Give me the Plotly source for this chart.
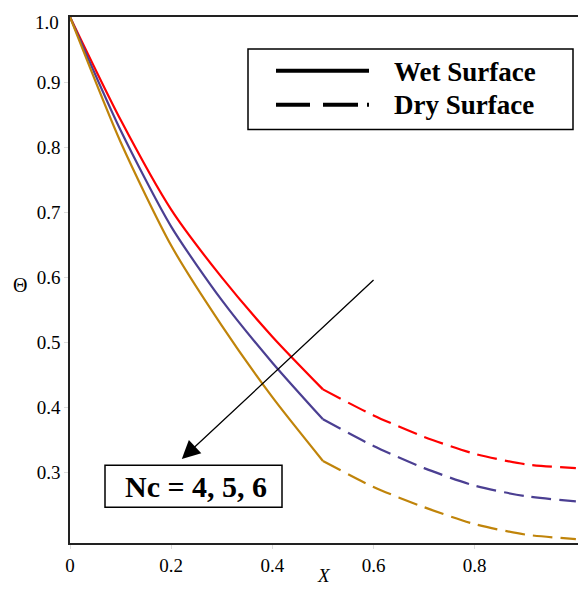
import plotly.graph_objects as go

# ---- data ----
x_wet = [0.0, 0.1, 0.2, 0.3, 0.4, 0.5]
x_dry = [0.5, 0.6, 0.7, 0.8, 0.9, 1.0]

nc4_wet = [1.0, 0.842, 0.704, 0.600, 0.509, 0.428]
nc5_wet = [1.0, 0.826, 0.678, 0.565, 0.469, 0.382]
nc6_wet = [1.0, 0.808, 0.649, 0.526, 0.416, 0.318]

nc4_dry = [0.428, 0.388, 0.355, 0.329, 0.313, 0.307]
nc5_dry = [0.382, 0.341, 0.307, 0.280, 0.264, 0.256]
nc6_dry = [0.318, 0.278, 0.247, 0.221, 0.205, 0.198]

colors = ["#FF0000", "#4B3F92", "#C0840A"]
x_ticks = [0, 0.2, 0.4, 0.6, 0.8]
x_ticktext = ["0", "0.2", "0.4", "0.6", "0.8"]
y_ticks = [0.3, 0.4, 0.5, 0.6, 0.7, 0.8, 0.9]
y_top_label = "1.0"

FONT = "Liberation Serif, Times New Roman, serif"

fig = go.Figure()
for wet, dry, c in zip([nc4_wet, nc5_wet, nc6_wet], [nc4_dry, nc5_dry, nc6_dry], colors):
    fig.add_trace(go.Scatter(x=x_wet, y=wet, mode="lines",
                             line=dict(color=c, width=2.2, shape="spline", smoothing=0.7), showlegend=False))
    fig.add_trace(go.Scatter(x=x_dry, y=dry, mode="lines",
                             line=dict(color=c, width=2.2, dash="20px,8px", shape="spline", smoothing=0.7),
                             showlegend=False))

# page offset of the figure (default body margin)
OFF = 8
# plot area in screen pixels: x 70..586, y 15..543
L, R, T, B = 70 - OFF, 586 - OFF, 15 - OFF, 543 - OFF
W, H = 586, 590

def px(x):
    return (x - OFF - L) / (R - L)

def py(y):
    return (B - (y - OFF)) / (B - T)

shapes = []
# legend box
shapes.append(dict(type="rect", xref="paper", yref="paper", x0=px(248), x1=px(573), y0=py(128), y1=py(47),
                   line=dict(color="black", width=1.5), fillcolor="white"))
shapes.append(dict(type="line", xref="paper", yref="paper", x0=px(276), x1=px(369), y0=py(69), y1=py(69),
                   line=dict(color="black", width=4)))
for a, b in [(276, 310), (323, 358), (367, 369)]:
    shapes.append(dict(type="line", xref="paper", yref="paper", x0=px(a), x1=px(b), y0=py(103), y1=py(103),
                       line=dict(color="black", width=4)))
# Nc box
shapes.append(dict(type="rect", xref="paper", yref="paper", x0=px(105), x1=px(282), y0=py(507), y1=py(465),
                   line=dict(color="black", width=1.5), fillcolor="white"))

annotations = [
    dict(xref="paper", yref="paper", x=px(392), y=py(70), text="<b>Wet Surface</b>", showarrow=False,
         xanchor="left", yanchor="middle", font=dict(family=FONT, size=27, color="black")),
    dict(xref="paper", yref="paper", x=px(392), y=py(103), text="<b>Dry Surface</b>", showarrow=False,
         xanchor="left", yanchor="middle", font=dict(family=FONT, size=27, color="black")),
    dict(xref="paper", yref="paper", x=px(196), y=py(486), text="<b>Nc = 4, 5, 6</b>", showarrow=False,
         xanchor="center", yanchor="middle", font=dict(family=FONT, size=30, color="black")),
    dict(x=0.221, y=0.321, ax=0.603, ay=0.598, xref="x", yref="y", axref="x", ayref="y", text="",
         showarrow=True, arrowhead=2, arrowsize=2.8, arrowwidth=1.3, arrowcolor="black"),
    dict(xref="paper", yref="paper", x=px(61), y=py(21), text=y_top_label, showarrow=False,
         xanchor="right", yanchor="middle", font=dict(family=FONT, size=19, color="black")),
    dict(xref="paper", yref="paper", x=px(20), y=py(284), text="Θ", showarrow=False,
         xanchor="center", yanchor="middle", font=dict(family=FONT, size=20, color="black")),
    dict(xref="paper", yref="paper", x=px(324), y=py(576), text="<i>X</i>", showarrow=False,
         xanchor="center", yanchor="middle", font=dict(family=FONT, size=19, color="black")),
]

fig.update_layout(
    width=W, height=H,
    margin=dict(l=L, r=W - R, t=T, b=H - B),
    paper_bgcolor="white", plot_bgcolor="white",
    shapes=shapes, annotations=annotations,
    font=dict(family=FONT, size=19, color="black"),
    xaxis=dict(range=[0, 1.02], tickvals=x_ticks, ticktext=x_ticktext, showgrid=False, zeroline=False,
               showline=True, linecolor="#222", linewidth=1.5, mirror=True, ticks="outside", ticklen=4,
               tickcolor="#ddd"),
    yaxis=dict(range=[0.192, 1.0], tickvals=y_ticks, tickformat=".1f", showgrid=False, zeroline=False,
               showline=True, linecolor="#222", linewidth=1.5, ticks="outside", ticklen=4, tickcolor="#ddd"),
)

fig.write_html("out.html")
